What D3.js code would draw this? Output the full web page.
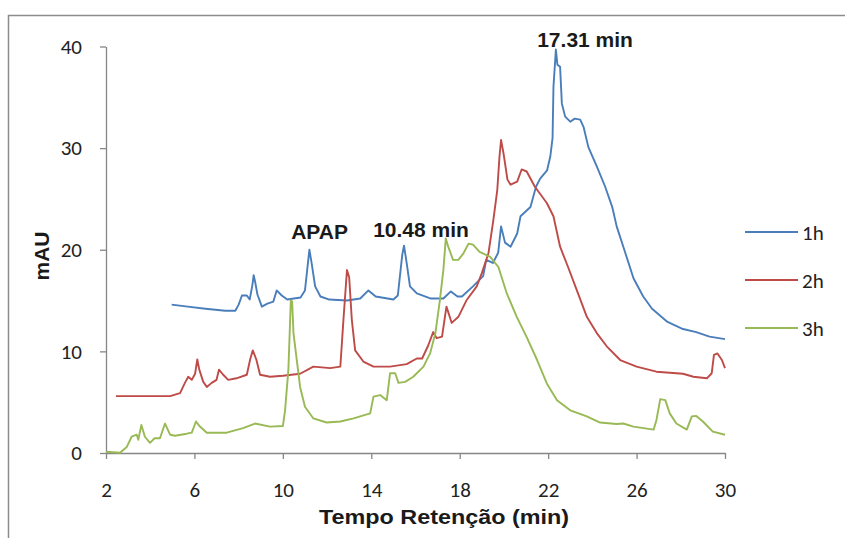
<!DOCTYPE html>
<html>
<head>
<meta charset="utf-8">
<script src="https://cdn.jsdelivr.net/npm/d3@7"></script>
<style>
  html, body { margin: 0; padding: 0; background: #ffffff; }
  svg { display: block; }
</style>
</head>
<body>
<div id="chart"></div>
<script>
// ---- data (retention time in min, absorbance in mAU) ----
const seriesNames = ["1h", "2h", "3h"];

const series1h = [
  [4.97,14.6],[5.7,14.4],[6.5,14.2],[7.4,14.0],[7.85,14.0],[8.0,14.6],[8.15,15.5],[8.37,15.5],[8.5,15.1],
  [8.62,16.5],[8.68,17.5],[8.75,16.8],[8.85,15.6],[9.05,14.4],[9.3,14.7],[9.57,14.9],[9.72,16.0],[9.95,15.5],
  [10.2,15.1],[10.8,15.3],[11.0,16.0],[11.15,19.0],[11.2,20.0],[11.3,18.7],[11.46,16.4],[11.7,15.4],[12.1,15.1],
  [12.9,15.0],[13.5,15.2],[13.87,16.0],[14.2,15.4],[15.0,15.1],[15.2,15.5],[15.4,19.5],[15.48,20.4],[15.6,18.7],
  [15.75,16.4],[16.06,15.7],[16.7,15.2],[17.26,15.2],[17.6,15.9],[17.9,15.4],[18.1,15.4],[18.6,16.4],[19.06,17.4],
  [19.2,19.0],[19.5,18.7],[19.74,19.7],[19.87,22.3],[20.05,20.7],[20.3,20.3],[20.6,21.6],[20.75,23.3],[21.2,24.2],
  [21.45,26.2],[21.64,27.0],[21.95,27.8],[22.1,29.2],[22.2,31.0],[22.24,36.0],[22.35,39.7],[22.42,38.2],[22.54,38.0],
  [22.62,34.4],[22.77,33.1],[23.0,32.6],[23.2,32.9],[23.45,32.8],[23.6,32.1],[23.82,30.1],[24.2,28.2],[24.58,26.2],
  [24.9,24.2],[25.1,22.3],[25.4,20.3],[25.86,17.2],[26.3,15.4],[26.7,14.2],[27.4,12.9],[28.1,12.2],[28.7,11.9],
  [29.3,11.45],[30.0,11.2]
];

const series2h = [
  [2.45,5.6],[4.9,5.6],[5.35,5.9],[5.57,6.9],[5.72,7.5],[5.88,7.2],[6.03,7.8],[6.13,9.2],[6.22,8.2],[6.4,7.0],
  [6.56,6.5],[6.78,6.9],[7.0,7.2],[7.11,8.2],[7.3,7.7],[7.53,7.2],[7.9,7.35],[8.37,7.7],[8.52,9.2],[8.64,10.1],
  [8.8,9.2],[8.97,7.7],[9.42,7.5],[10.0,7.6],[10.78,7.8],[11.38,8.5],[12.14,8.35],[12.6,8.5],[12.74,13.1],[12.9,18.0],
  [13.0,17.3],[13.12,13.1],[13.27,10.1],[13.64,9.0],[14.1,8.5],[14.85,8.5],[15.6,8.75],[16.06,9.3],[16.3,9.3],
  [16.58,10.6],[16.8,11.9],[16.96,11.3],[17.2,11.45],[17.4,14.4],[17.64,12.8],[17.94,13.4],[18.3,15.0],[18.77,16.4],
  [19.0,17.7],[19.3,19.65],[19.52,22.9],[19.7,25.9],[19.8,29.2],[19.87,30.8],[19.98,29.5],[20.16,26.9],[20.3,26.4],
  [20.6,26.7],[20.8,27.9],[21.03,27.7],[21.4,26.2],[21.94,24.6],[22.24,23.3],[22.54,20.3],[22.9,18.3],[23.3,16.0],
  [23.75,13.4],[24.2,11.8],[24.65,10.5],[25.26,9.15],[26.0,8.5],[26.9,8.0],[28.1,7.8],[28.57,7.5],[29.18,7.35],
  [29.4,7.85],[29.5,9.65],[29.66,9.8],[29.86,9.15],[30.0,8.35]
];

const series3h = [
  [2.0,0.13],[2.63,0.03],[2.94,0.6],[3.16,1.6],[3.39,1.8],[3.46,1.3],[3.6,2.75],[3.76,1.6],[3.99,1.0],[4.2,1.45],
  [4.44,1.45],[4.67,2.9],[4.9,1.8],[5.12,1.7],[5.65,1.9],[5.88,2.0],[6.07,3.1],[6.25,2.6],[6.56,2.0],[7.46,2.0],
  [8.2,2.45],[8.74,2.9],[9.42,2.6],[10.0,2.65],[10.1,4.2],[10.25,8.2],[10.36,15.0],[10.42,14.9],[10.48,11.8],
  [10.63,9.15],[10.78,6.5],[11.0,4.55],[11.38,3.4],[11.98,3.0],[12.6,3.1],[13.2,3.4],[13.95,3.9],[14.1,5.55],
  [14.4,5.7],[14.7,5.2],[14.85,7.85],[15.08,7.85],[15.23,6.9],[15.53,7.0],[15.9,7.5],[16.36,8.5],[16.66,9.8],
  [16.9,11.8],[17.1,15.0],[17.26,18.0],[17.37,21.1],[17.48,20.3],[17.7,19.0],[17.94,19.0],[18.17,19.65],[18.4,20.6],
  [18.6,20.5],[18.9,19.8],[19.38,19.3],[19.75,18.3],[20.13,15.7],[20.58,13.4],[21.03,11.4],[21.5,9.15],[21.94,6.85],
  [22.4,5.2],[23.0,4.2],[23.75,3.6],[24.35,3.0],[25.1,2.85],[25.4,2.9],[25.86,2.6],[26.77,2.3],[26.9,3.25],
  [27.07,5.3],[27.3,5.2],[27.5,3.9],[27.8,2.9],[28.27,2.3],[28.5,3.6],[28.7,3.65],[29.0,3.1],[29.45,2.1],[30.0,1.8]
];

const xTicks = [2, 6, 10, 14, 18, 22, 26, 30];
const yTicks = [0, 10, 20, 30, 40];
const xDomain = [2, 30];
const yDomain = [0, 40];

// annotations: [label, x (min), y (mAU)] – anchor of the text baseline centre
const annotations = [
  ["17.31 min", 23.67, 40.0],
  ["APAP", 11.66, 21.1],
  ["10.48 min", 16.25, 21.3]
];

const xTitle = "Tempo Retenção (min)";
const yTitle = "mAU";

// ---- drawing ----
const W = 845, H = 538;
const colors = ["#4a7ebb", "#be4b48", "#98b954"];
const allSeries = [series1h, series2h, series3h];

const svg = d3.select("#chart").append("svg")
  .attr("width", W).attr("height", H);

svg.append("rect").attr("x", 0).attr("y", 0).attr("width", W).attr("height", H).attr("fill", "#fff");
// outer chart frame
svg.append("rect").attr("x", 8.5).attr("y", 15.5).attr("width", W).attr("height", H)
  .attr("fill", "none").attr("stroke", "#8c8c8c").attr("stroke-width", 1.5);

const x = d3.scaleLinear().domain(xDomain).range([106, 725]);
const y = d3.scaleLinear().domain(yDomain).range([453, 46.5]);

const tickFont = "Carlito, Lato, 'Open Sans', sans-serif";
const boldFont = "'Liberation Sans', Arial, sans-serif";

const gx = svg.append("g").attr("transform", `translate(0,${y(0)})`)
  .call(d3.axisBottom(x).tickValues(xTicks).tickSize(6).tickPadding(23).tickSizeOuter(0));
const gy = svg.append("g").attr("transform", `translate(${x(2)},0)`)
  .call(d3.axisLeft(y).tickValues(yTicks).tickSize(6).tickPadding(18).tickSizeOuter(0));

[gx, gy].forEach(g => {
  g.select(".domain").attr("stroke", "#868686").attr("stroke-width", 1.3);
  g.selectAll(".tick line").attr("stroke", "#868686").attr("stroke-width", 1.3);
  g.selectAll(".tick text").attr("fill", "#222").style("font-family", tickFont).style("font-size", "21px");
});

const line = d3.line().x(d => x(d[0])).y(d => y(d[1]));

allSeries.forEach((s, i) => {
  svg.append("path").datum(s)
    .attr("fill", "none")
    .attr("stroke", colors[i])
    .attr("stroke-width", 1.9)
    .attr("stroke-linejoin", "round")
    .attr("d", line);
});

// annotations
svg.selectAll(".ann").data(annotations).enter().append("text")
  .attr("class", "ann")
  .attr("x", d => x(d[1]))
  .attr("y", d => y(d[2]))
  .attr("text-anchor", "middle")
  .style("font-family", boldFont)
  .style("font-weight", "bold")
  .style("font-size", "21px")
  .attr("fill", "#1a1a1a")
  .text(d => d[0]);

// axis titles
svg.append("text")
  .attr("x", 444).attr("y", 524)
  .attr("text-anchor", "middle")
  .attr("textLength", 250).attr("lengthAdjust", "spacingAndGlyphs")
  .style("font-family", boldFont).style("font-weight", "bold").style("font-size", "21px")
  .attr("fill", "#1a1a1a")
  .text(xTitle);

svg.append("text")
  .attr("transform", "translate(48.5,256) rotate(-90)")
  .attr("text-anchor", "middle")
  .style("font-family", boldFont).style("font-weight", "bold").style("font-size", "21px")
  .attr("fill", "#1a1a1a")
  .text(yTitle);

// legend
const legend = svg.append("g");
seriesNames.forEach((name, i) => {
  const ly = 232 + i * 48;
  legend.append("line").attr("x1", 745).attr("x2", 798).attr("y1", ly).attr("y2", ly)
    .attr("stroke", colors[i]).attr("stroke-width", 1.9);
  legend.append("text").attr("x", 802).attr("y", ly).attr("dy", "0.36em")
    .style("font-family", tickFont).style("font-size", "21px").attr("fill", "#222")
    .text(name);
});
</script>
</body>
</html>
